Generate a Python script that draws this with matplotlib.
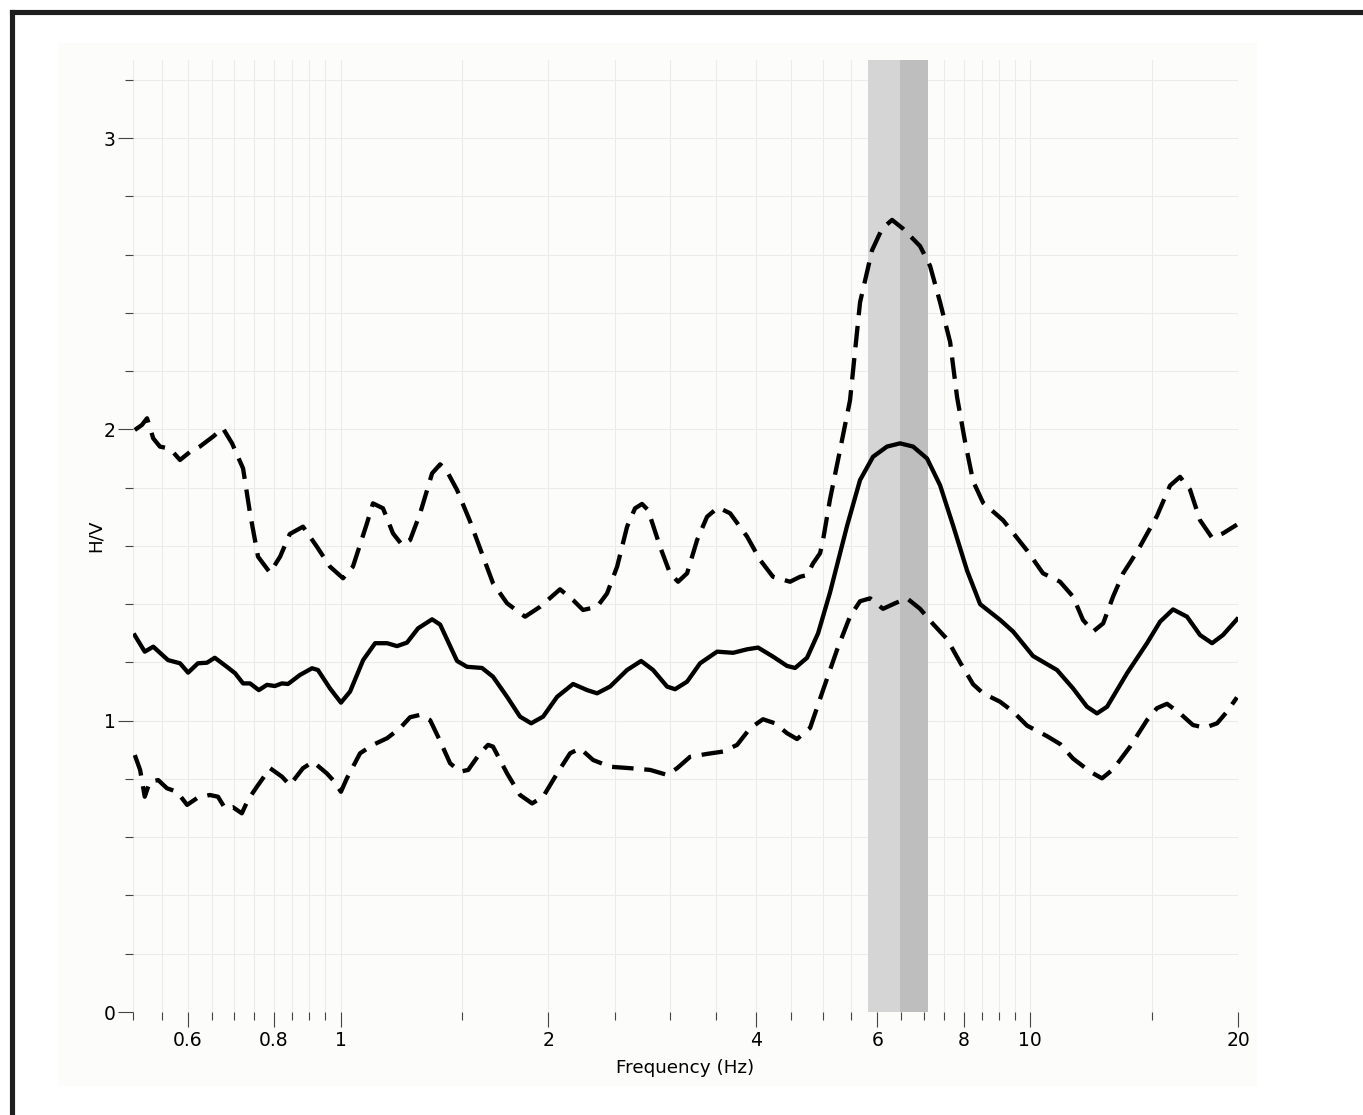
import matplotlib
matplotlib.use("Agg")
import matplotlib.pyplot as plt
from matplotlib.patches import Rectangle
from matplotlib.lines import Line2D
from matplotlib.ticker import FixedLocator, FixedFormatter, NullFormatter

# ---------------- data ----------------
freq_mean = [0.503, 0.520, 0.535, 0.562, 0.585, 0.601, 0.621, 0.640, 0.657, 0.684,
             0.703, 0.722, 0.739, 0.761, 0.782, 0.803, 0.822, 0.839, 0.873, 0.909,
             0.927, 0.965, 1.001, 1.032, 1.078, 1.122, 1.168, 1.207, 1.248, 1.295,
             1.357, 1.394, 1.475, 1.525, 1.603, 1.663, 1.743, 1.820, 1.889, 1.966,
             2.060, 2.173, 2.277, 2.354, 2.458, 2.602, 2.727, 2.838, 2.974, 3.054,
             3.179, 3.320, 3.514, 3.707, 3.884, 4.029, 4.235, 4.438, 4.559, 4.745,
             4.923, 5.123, 5.422, 5.663, 5.914, 6.197, 6.473, 6.760, 7.083, 7.398,
             7.726, 8.096, 8.456, 9.039, 9.440, 10.09, 10.93, 11.53, 12.08, 12.49,
             12.92, 13.81, 14.76, 15.42, 16.10, 16.87, 17.62, 18.34, 19.02, 19.93]
hv_mean = [1.293, 1.237, 1.254, 1.208, 1.197, 1.165, 1.197, 1.199, 1.216, 1.185,
           1.163, 1.128, 1.128, 1.105, 1.123, 1.119, 1.128, 1.126, 1.157, 1.180,
           1.174, 1.111, 1.062, 1.100, 1.208, 1.266, 1.266, 1.256, 1.268, 1.317,
           1.348, 1.330, 1.205, 1.185, 1.181, 1.151, 1.082, 1.014, 0.991, 1.014,
           1.082, 1.126, 1.105, 1.094, 1.117, 1.174, 1.205, 1.174, 1.117, 1.108,
           1.134, 1.197, 1.237, 1.233, 1.245, 1.251, 1.220, 1.188, 1.181, 1.216,
           1.300, 1.440, 1.668, 1.826, 1.906, 1.941, 1.952, 1.941, 1.900, 1.808,
           1.670, 1.515, 1.400, 1.346, 1.306, 1.222, 1.174, 1.111, 1.048, 1.025,
           1.048, 1.163, 1.266, 1.340, 1.382, 1.357, 1.294, 1.266, 1.294, 1.348]

freq_upper = [0.503, 0.515, 0.524, 0.535, 0.547, 0.562, 0.569, 0.585, 0.605, 0.625,
              0.653, 0.675, 0.696, 0.722, 0.739, 0.759, 0.790, 0.817, 0.844, 0.882,
              0.924, 0.965, 1.008, 1.042, 1.092, 1.114, 1.152, 1.191, 1.228, 1.261,
              1.304, 1.357, 1.394, 1.427, 1.475, 1.540, 1.609, 1.663, 1.743, 1.851,
              1.946, 2.080, 2.173, 2.246, 2.354, 2.434, 2.517, 2.602, 2.672, 2.735,
              2.791, 2.905, 3.003, 3.085, 3.179, 3.287, 3.398, 3.525, 3.670, 3.884,
              4.056, 4.235, 4.483, 4.636, 4.745, 4.841, 4.956, 5.005, 5.123, 5.297,
              5.477, 5.663, 5.895, 6.095, 6.302, 6.537, 6.920, 7.155, 7.398, 7.650,
              7.830, 8.042, 8.260, 8.540, 9.129, 9.891, 10.43, 11.04, 11.53, 11.92,
              12.33, 12.75, 13.18, 13.63, 14.03, 14.42, 15.26, 15.94, 16.48, 17.04,
              17.62, 18.34, 19.02, 19.93]
hv_upper = [1.998, 2.015, 2.038, 1.969, 1.941, 1.935, 1.927, 1.895, 1.923, 1.941,
            1.975, 2.004, 1.952, 1.866, 1.712, 1.563, 1.508, 1.563, 1.641, 1.666,
            1.597, 1.529, 1.489, 1.529, 1.678, 1.746, 1.729, 1.643, 1.603, 1.620,
            1.712, 1.849, 1.880, 1.855, 1.792, 1.685, 1.563, 1.472, 1.403, 1.357,
            1.391, 1.451, 1.414, 1.380, 1.391, 1.437, 1.529, 1.666, 1.729, 1.744,
            1.723, 1.597, 1.506, 1.477, 1.506, 1.620, 1.700, 1.732, 1.712, 1.632,
            1.552, 1.494, 1.477, 1.494, 1.500, 1.540, 1.575, 1.620, 1.760, 1.929,
            2.100, 2.436, 2.615, 2.689, 2.719, 2.689, 2.629, 2.561, 2.436, 2.300,
            2.110, 1.957, 1.822, 1.748, 1.688, 1.584, 1.506, 1.477, 1.426, 1.346,
            1.306, 1.334, 1.426, 1.506, 1.552, 1.598, 1.703, 1.807, 1.837, 1.793,
            1.688, 1.628, 1.643, 1.673]

freq_lower = [0.503, 0.512, 0.520, 0.529, 0.544, 0.560, 0.579, 0.599, 0.619, 0.646,
              0.664, 0.680, 0.698, 0.719, 0.734, 0.756, 0.790, 0.822, 0.844, 0.882,
              0.912, 0.955, 0.975, 1.001, 1.021, 1.067, 1.114, 1.168, 1.219, 1.261,
              1.304, 1.348, 1.394, 1.441, 1.490, 1.531, 1.592, 1.636, 1.663, 1.743,
              1.820, 1.895, 1.966, 2.060, 2.151, 2.224, 2.323, 2.458, 2.628, 2.810,
              2.974, 3.075, 3.211, 3.398, 3.585, 3.757, 3.923, 4.096, 4.264, 4.438,
              4.589, 4.793, 5.005, 5.244, 5.477, 5.663, 5.855, 6.114, 6.365, 6.625,
              6.920, 7.226, 7.573, 7.909, 8.260, 8.540, 9.039, 9.440, 9.891, 10.57,
              11.04, 11.53, 12.21, 12.70, 13.18, 13.95, 14.76, 15.26, 15.78, 16.48,
              17.21, 17.91, 18.65, 19.28, 19.93]
hv_lower = [0.882, 0.831, 0.739, 0.791, 0.796, 0.768, 0.756, 0.711, 0.734, 0.745,
            0.739, 0.699, 0.703, 0.682, 0.728, 0.773, 0.837, 0.808, 0.779, 0.837,
            0.859, 0.819, 0.796, 0.756, 0.802, 0.888, 0.917, 0.940, 0.974, 1.012,
            1.020, 1.002, 0.930, 0.854, 0.825, 0.831, 0.888, 0.917, 0.911, 0.819,
            0.745, 0.716, 0.739, 0.819, 0.888, 0.905, 0.865, 0.842, 0.837, 0.831,
            0.814, 0.837, 0.876, 0.886, 0.894, 0.917, 0.974, 1.005, 0.991, 0.957,
            0.937, 0.975, 1.105, 1.243, 1.358, 1.410, 1.420, 1.384, 1.403, 1.420,
            1.384, 1.332, 1.280, 1.200, 1.125, 1.094, 1.065, 1.031, 0.983, 0.947,
            0.920, 0.870, 0.825, 0.802, 0.833, 0.911, 1.002, 1.043, 1.058, 1.025,
            0.985, 0.976, 0.991, 1.031, 1.080]

# peak frequency band: f0/std, f0, f0*std
peak_band = [5.82, 6.47, 7.11]

x_major = [0.6, 0.8, 1, 2, 4, 6, 8, 10, 20]
x_major_labels = ["0.6", "0.8", "1", "2", "4", "6", "8", "10", "20"]
x_minor = [0.5, 0.55, 0.65, 0.7, 0.75, 0.85, 0.9, 0.95, 1.5, 2.5, 3, 3.5,
           4.5, 5, 5.5, 6.5, 7, 7.5, 8.5, 9, 9.5, 15]
y_major = [0, 1, 2, 3]
y_major_labels = ["0", "1", "2", "3"]
y_minor = [0.2, 0.4, 0.6, 0.8, 1.2, 1.4, 1.6, 1.8, 2.2, 2.4, 2.6, 2.8, 3.2]

# ---------------- figure ----------------
W, H, DPI = 1363, 1115, 100
fig = plt.figure(figsize=(W / DPI, H / DPI), dpi=DPI, facecolor="white")

# light plot panel
fig.patches.append(Rectangle((58 / W, 1 - 1086 / H), (1257 - 58) / W, (1086 - 43) / H,
                             transform=fig.transFigure, facecolor="#fcfcfb",
                             edgecolor="none", zorder=-10))
# thick dark frame (cropped on the right and bottom)
fig.add_artist(Line2D([11.5 / W, 11.5 / W], [-0.01, 1 - 11.5 / H], transform=fig.transFigure,
                      color="#1e1e1e", lw=3.7, solid_capstyle="projecting"))
fig.add_artist(Line2D([11.5 / W, 1.01], [1 - 11.5 / H, 1 - 11.5 / H], transform=fig.transFigure,
                      color="#1e1e1e", lw=3.7, solid_capstyle="projecting"))

ax = fig.add_axes([133 / W, 1 - 1012 / H, 1105 / W, 952 / H], zorder=5)
ax.set_facecolor("none")
ax.set_xscale("log")
ax.set_xlim(0.5, 20)
ax.set_ylim(0, 3.268)

for s in ax.spines.values():
    s.set_visible(False)

ax.xaxis.set_major_locator(FixedLocator(x_major))
ax.xaxis.set_major_formatter(FixedFormatter(x_major_labels))
ax.xaxis.set_minor_locator(FixedLocator(x_minor))
ax.xaxis.set_minor_formatter(NullFormatter())
ax.yaxis.set_major_locator(FixedLocator(y_major))
ax.yaxis.set_major_formatter(FixedFormatter(y_major_labels))
ax.yaxis.set_minor_locator(FixedLocator(y_minor))
ax.yaxis.set_minor_formatter(NullFormatter())

ax.grid(True, which="both", color="#ebebeb", lw=0.8, zorder=0)
ax.set_axisbelow(True)

ax.tick_params(axis="both", which="major", direction="out", length=11, width=0.8,
               color="#444444", labelsize=13.5, labelcolor="#000000")
ax.tick_params(axis="both", which="minor", direction="out", length=5.8, width=0.8,
               color="#444444")
ax.tick_params(axis="x", which="major", pad=2.5)
ax.tick_params(axis="y", which="major", pad=1.5)

# peak band
ax.axvspan(peak_band[0], peak_band[1], color="#d5d5d5", lw=0, zorder=1)
ax.axvspan(peak_band[1], peak_band[2], color="#bebebf", lw=0, zorder=1)

lw = 3.1
ax.plot(freq_upper, hv_upper, color="black", lw=lw, dashes=(5, 2.5), zorder=3,
        dash_joinstyle="round")
ax.plot(freq_lower, hv_lower, color="black", lw=lw, dashes=(5, 2.5), zorder=3,
        dash_joinstyle="round")
ax.plot(freq_mean, hv_mean, color="black", lw=lw, zorder=4, solid_joinstyle="round")

ax.set_xlabel("Frequency (Hz)", fontsize=13.2, color="#000000", labelpad=7)
ax.set_ylabel("H/V", fontsize=13.2, color="#000000", labelpad=-1)

fig.savefig("out.png", dpi=DPI, facecolor="white")
